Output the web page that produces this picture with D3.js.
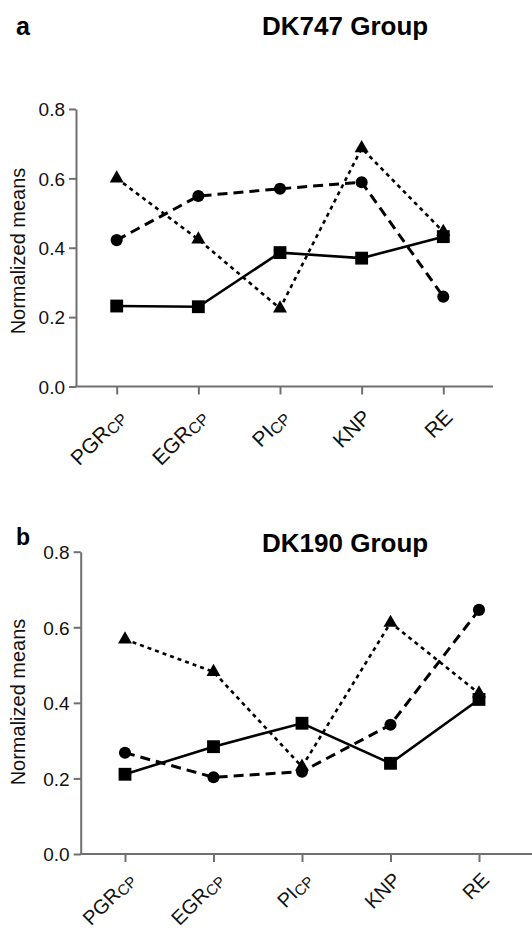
<!DOCTYPE html>
<html>
<head>
<meta charset="utf-8">
<script src="https://d3js.org/d3.v7.min.js"></script>
<style>
body { margin: 0; padding: 0; background: #fff; }
svg { display: block; font-family: "Liberation Sans", Arial, sans-serif; }
.axis text { font-size: 19px; fill: #111; }
.axis line, .axis path { stroke: #707070; stroke-width: 2; }
</style>
</head>
<body>
<svg id="chart" width="532" height="935"></svg>
<script>
// categories and series
const categories = ["PGR", "EGR", "PI", "KNP", "RE"];
const subscripts = ["CP", "CP", "CP", "", ""];
const yTicks = [0.0, 0.2, 0.4, 0.6, 0.8];

const dk747Square   = [0.232, 0.230, 0.386, 0.370, 0.432];
const dk747Circle   = [0.422, 0.549, 0.570, 0.589, 0.259];
const dk747Triangle = [0.600, 0.424, 0.225, 0.687, 0.446];

const dk190Square   = [0.211, 0.284, 0.346, 0.240, 0.409];
const dk190Circle   = [0.268, 0.203, 0.218, 0.342, 0.646];
const dk190Triangle = [0.568, 0.482, 0.231, 0.612, 0.425];

const svg = d3.select("#chart");

// panel layout (pixels)
const panels = [
  { letter: "a", title: "DK747 Group", letterY: 35, titleY: 35, letterSize: 25,
    axisX: 76, x0: 116.7, x1: 443.3, axisEnd: 493, yTop: 109, yBottom: 386.5, labelY: 251,
    tickLbl: "translate(10,32) rotate(-45)", tickFont: 21,
    sq: dk747Square, ci: dk747Circle, tr: dk747Triangle },
  { letter: "b", title: "DK190 Group", letterY: 545, titleY: 552, letterSize: 23,
    axisX: 80.7, x0: 125, x1: 479, axisEnd: 532, yTop: 551.7, yBottom: 854, labelY: 702,
    tickLbl: "translate(11,27) rotate(-45)", tickFont: 20,
    sq: dk190Square, ci: dk190Circle, tr: dk190Triangle }
];

const styles = {
  sq: { dash: null, width: 2.6, symbol: d3.symbolSquare, size: 165 },
  ci: { dash: "10,6", width: 3, symbol: d3.symbolCircle, size: 115 },
  tr: { dash: "4,4", width: 2.6, symbol: d3.symbolTriangle, size: 85 }
};

panels.forEach(p => {
  const x = d3.scalePoint().domain(categories).range([p.x0, p.x1]);
  const y = d3.scaleLinear().domain([0, 0.8]).range([p.yBottom, p.yTop]);

  svg.append("text")
    .attr("x", 16).attr("y", p.letterY)
    .attr("font-size", p.letterSize).attr("font-weight", "bold")
    .text(p.letter);

  svg.append("text")
    .attr("x", 262).attr("y", p.titleY)
    .attr("font-size", 26).attr("font-weight", "bold")
    .text(p.title);

  // y axis
  const yAxis = svg.append("g")
    .attr("class", "axis")
    .attr("transform", `translate(${p.axisX},0)`)
    .call(d3.axisLeft(y).tickValues(yTicks).tickFormat(d3.format(".1f")).tickSize(7).tickSizeOuter(0).tickPadding(4));
  yAxis.selectAll("text").attr("dy", "0.36em");

  // x axis
  const xAxis = svg.append("g")
    .attr("class", "axis")
    .attr("transform", `translate(0,${p.yBottom})`)
    .call(d3.axisBottom(x).tickSize(8).tickSizeOuter(0).tickFormat(""));
  xAxis.select(".domain").remove();
  xAxis.append("line")
    .attr("x1", p.axisX - 1).attr("x2", p.axisEnd)
    .attr("y1", 0).attr("y2", 0);

  const lbl = xAxis.selectAll(".tick").append("text")
    .attr("text-anchor", "end")
    .attr("transform", p.tickLbl)
    .style("font-size", p.tickFont + "px")
    .attr("fill", "#111");
  lbl.append("tspan").text(d => d);
  lbl.append("tspan")
    .style("font-size", (p.tickFont - 5) + "px")
    .attr("dy", 2)
    .text(d => subscripts[categories.indexOf(d)]);

  svg.append("text")
    .attr("transform", `translate(25,${p.labelY}) rotate(-90)`)
    .attr("text-anchor", "middle")
    .attr("font-size", 20)
    .attr("fill", "#111")
    .text("Normalized means");

  const line = d3.line().x((d, i) => x(categories[i])).y(d => y(d));

  ["tr", "ci", "sq"].forEach(k => {
    const s = styles[k];
    svg.append("path")
      .datum(p[k])
      .attr("d", line)
      .attr("fill", "none")
      .attr("stroke", "#000")
      .attr("stroke-width", s.width)
      .attr("stroke-dasharray", s.dash);
  });

  ["tr", "ci", "sq"].forEach(k => {
    const s = styles[k];
    svg.append("g").selectAll("path")
      .data(p[k])
      .join("path")
      .attr("transform", (d, i) => `translate(${x(categories[i])},${y(d)})`)
      .attr("d", d3.symbol(s.symbol, s.size))
      .attr("fill", "#000");
  });
});
</script>
</body>
</html>
